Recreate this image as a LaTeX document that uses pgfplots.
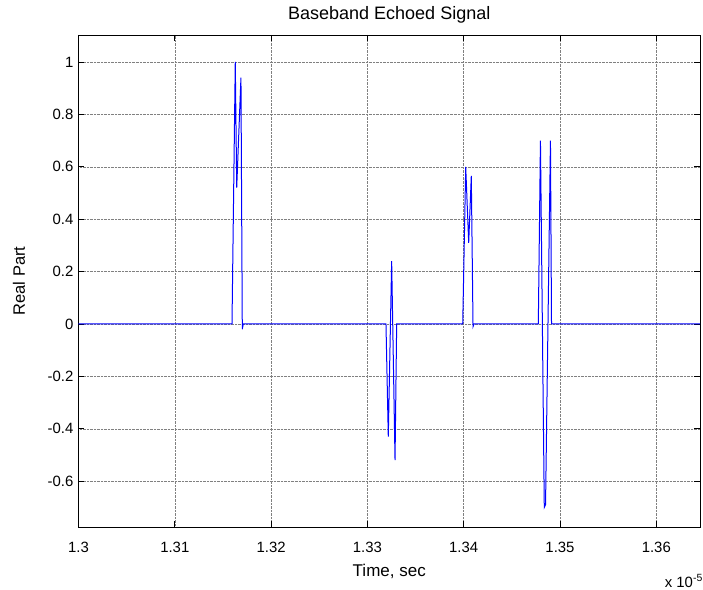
\documentclass[border=0pt]{standalone}
\usepackage{fontspec}
\setmainfont{Liberation Sans}
\usepackage{pgfplots}
\pgfplotsset{compat=1.18}
\begin{document}
\fontsize{14.9bp}{18bp}\selectfont
\begin{tikzpicture}[font=\fontsize{14.9bp}{18bp}\selectfont]
\path[use as bounding box] (-78.5bp,-63bp) rectangle (624.5bp,527bp);
\begin{axis}[
  scale only axis, width=621.5bp, height=492bp,
  xmin=1.3, xmax=1.36454, ymin=-0.775, ymax=1.103,
  xtick={1.3,1.31,1.32,1.33,1.34,1.35,1.36},
  xticklabels={1.3,1.31,1.32,1.33,1.34,1.35,1.36},
  ytick={-0.6,-0.4,-0.2,0,0.2,0.4,0.6,0.8,1},
  yticklabels={-0.6,-0.4,-0.2,0,0.2,0.4,0.6,0.8,1},
  tick align=inside, major tick length=6bp,
  grid=major, grid style={densely dotted, black!50, line width=0.5bp},
  axis line style={line width=0.9bp},
  every tick/.style={black, line width=0.9bp},
  xticklabel style={anchor=base, yshift=-25bp},
]
\addplot[blue, line width=1bp] coordinates {
(1.3,0)
(1.31594,0) (1.31628,1.0) (1.31643,0.52) (1.31687,0.94) (1.31701,-0.02) (1.31711,0)
(1.33193,0) (1.33217,-0.43) (1.33252,0.24) (1.33287,-0.52) (1.33304,0)
(1.33990,0) (1.34021,0.60) (1.34052,0.31) (1.34079,0.565) (1.34097,-0.01) (1.34107,0)
(1.34775,0) (1.34797,0.70) (1.34837,-0.70) (1.34850,-0.69) (1.34901,0.70) (1.34912,0)
(1.36454,0)
};
\end{axis}
\node[anchor=base, font=\fontsize{18bp}{21bp}\selectfont] at (310.75bp,507bp) {Baseband Echoed Signal};
\node[anchor=base, font=\fontsize{17bp}{20bp}\selectfont] at (310.75bp,-49bp) {Time, sec};
\node[rotate=90, anchor=base, font=\fontsize{16.5bp}{20bp}\selectfont] at (-53.5bp,246bp) {Real Part};
\node[anchor=base east, inner sep=0pt] at (624.5bp,-60bp) {x 10\textsuperscript{-5}};
\end{tikzpicture}
\end{document}
